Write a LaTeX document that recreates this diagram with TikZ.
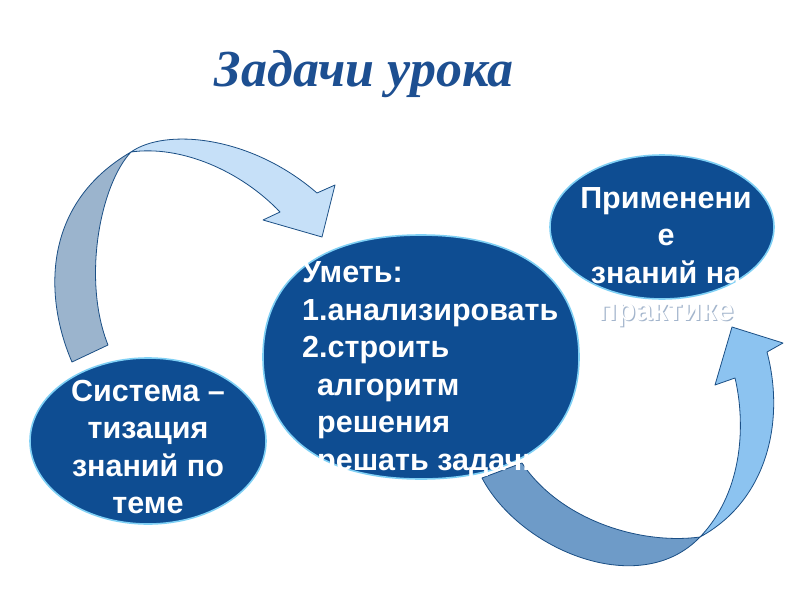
\documentclass[tikz,border=0pt]{standalone}
\usepackage{fontspec}
\setmainfont{Liberation Serif}
\setsansfont{Liberation Sans}
\usetikzlibrary{shapes.geometric}
\definecolor{deep}{HTML}{0E4D92}
\definecolor{rim}{HTML}{7FD0F5}
\definecolor{ink}{HTML}{1D4F91}
\definecolor{edge}{HTML}{1B4F85}
\definecolor{backA}{HTML}{9BB4CD}
\definecolor{frontA}{HTML}{C6E0F8}
\definecolor{backB}{HTML}{6E9BC8}
\definecolor{frontB}{HTML}{8CC3F0}
\definecolor{shade}{HTML}{A3B5CC}

\begin{document}
\begin{tikzpicture}[x=1pt, y=-1pt,
  skin/.style={draw=rim, line width=1.6pt, fill=deep},
  blob/.style={ellipse, skin, inner sep=0pt},
  txt/.style={text=white, inner sep=0pt, font=\sffamily\bfseries\fontsize{30.5}{37.5}\selectfont},
  ghost/.style={txt, text=shade},
  band/.style={draw=edge, line width=0.8pt, line join=round}]
\useasboundingbox (0,0) rectangle (800,600);
\fill[white] (0,0) rectangle (800,600);

\node[font=\rmfamily\bfseries\itshape\fontsize{52}{56}\selectfont, text=ink, anchor=base] (title) at (364,86) {Задачи урока};

% arrow from the left ellipse up and over
\coordinate (twistA) at (131,152);
\fill[backA, band] (72,362) .. controls (45,300) and (40,205) .. (twistA)
  .. controls (100,185) and (82,280) .. (108,345) -- cycle;
\fill[frontA, band] (twistA) .. controls (165,128) and (250,135) .. (317,193)
  -- (335,185) -- (322,237) -- (263,220) -- (280,212)
  .. controls (240,170) and (180,145) .. (twistA) -- cycle;

% arrow from the middle ellipse down and up
\coordinate (twistB) at (700,537);
\fill[backB, band] (482,478) .. controls (520,550) and (640,600) .. (twistB)
  .. controls (640,545) and (560,520) .. (522,463) -- cycle;
\fill[frontB, band] (twistB) .. controls (768,500) and (785,420) .. (767,352)
  -- (783,343) -- (732,327) -- (715,385) -- (735,378)
  .. controls (745,420) and (745,490) .. (twistB) -- cycle;

\node[blob, minimum width=236, minimum height=166] (sys) at (148,441) {};
\node[blob, minimum width=224, minimum height=144] (use) at (662,227) {};
% middle one is a little boxier than an ellipse
\coordinate (skill) at (421,357);
\filldraw[skin] (skill) ++(158,0) .. controls +(0,-78) and +(101,0) .. ++(-158,-122)
  .. controls +(-101,0) and +(0,-78) .. ++(-158,122)
  .. controls +(0,78) and +(-101,0) .. ++(158,122)
  .. controls +(101,0) and +(0,78) .. ++(158,-122) -- cycle;

\node[txt, align=center] (sysT) at (148,447) {Система –\\тизация\\знаний по\\теме};
\node[txt, align=left, anchor=west] (skillT) at (302,369) {Уметь:\\1.анализировать\\2.строить\\\hspace*{15pt}алгоритм\\\hspace*{15pt}решения\\\hspace*{15pt}решать задачи};
% last line spills out of the ellipse, only its shadow shows
\node[ghost, align=center] (useS) at (667.2,258.2) {\phantom{Применени}\\\phantom{е}\\\phantom{знаний на}\\практике};
\node[txt, align=center] (useT) at (666,257) {Применени\\е\\знаний на\\практике};
\end{tikzpicture}
\end{document}
